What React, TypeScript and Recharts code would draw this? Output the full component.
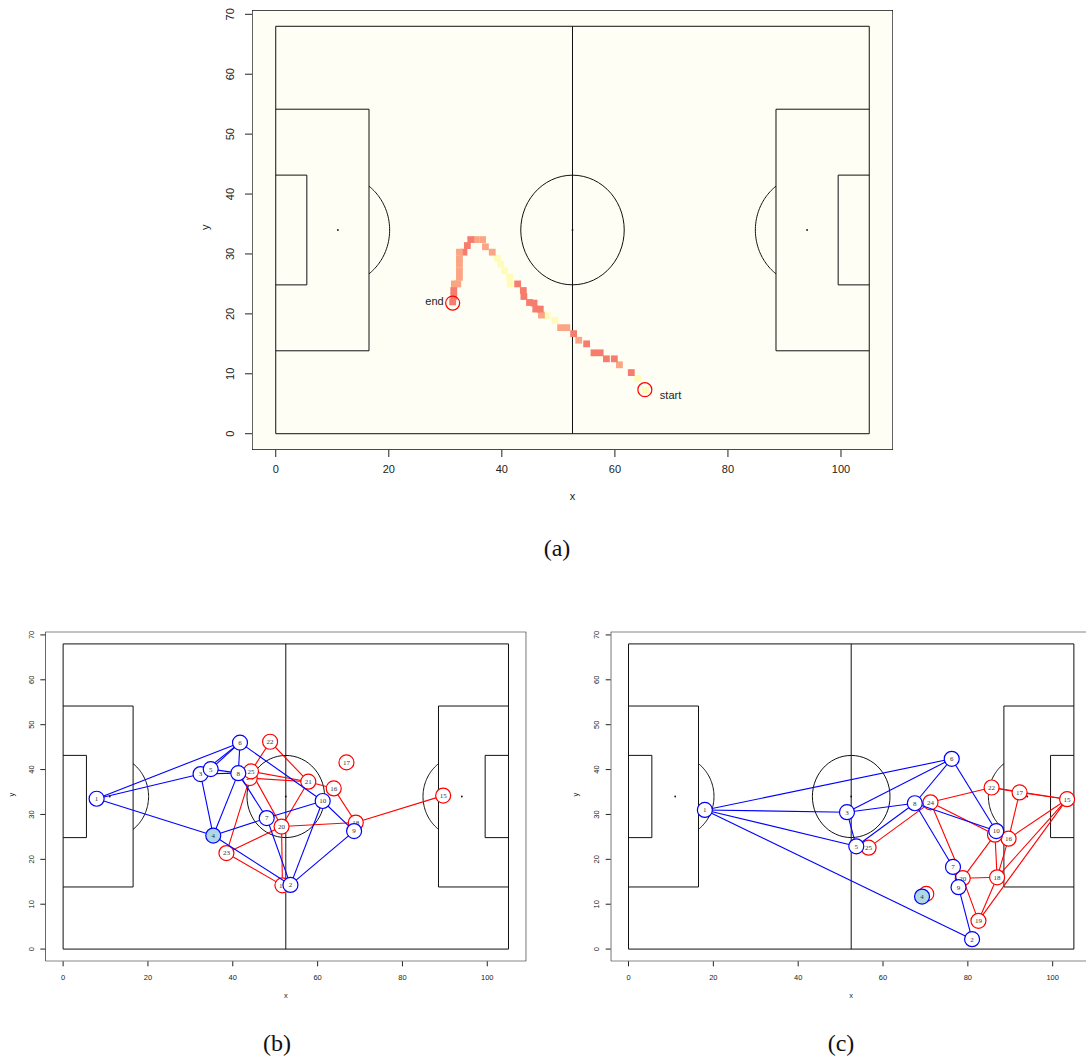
import React from "react";
import { ScatterChart, Scatter, XAxis, YAxis, CartesianGrid } from "recharts";

// axes (pitch is 105 x 68 m, R-style 4% padding)
const xTicks = [0, 20, 40, 60, 80, 100];
const yTicks = [0, 10, 20, 30, 40, 50, 60, 70];
const xDomain: [number, number] = [-4.2, 109.2];
const yDomain: [number, number] = [-2.72, 70.72];

// (a) ball trajectory, start -> end. level: 0 slow (yellow), 1 medium, 2 fast (red)
const trackX = [
  65.4, 64.0, 62.9, 60.8, 59.9, 58.5, 57.4, 56.3, 55.0, 53.6, 52.7, 51.5, 50.4, 49.4, 48.0,
  47.0, 46.8, 46.0, 45.7, 44.9, 43.9, 43.8, 42.8, 41.5, 41.4, 40.5, 39.8, 39.2, 38.3, 37.1,
  36.6, 35.4, 34.5, 33.9, 33.3, 32.5, 32.5, 32.5, 32.5, 32.5, 32.2, 31.6, 31.5, 31.5, 31.3,
];
const trackY = [
  7.3, 9.2, 10.2, 11.5, 12.5, 12.5, 13.5, 13.5, 15.0, 15.6, 16.7, 17.7, 17.7, 18.9, 19.7,
  19.8, 20.8, 20.8, 21.8, 21.9, 22.9, 23.9, 25.0, 25.0, 26.1, 27.2, 28.3, 29.3, 30.3, 31.2,
  32.4, 32.4, 32.4, 31.4, 30.3, 30.3, 29.2, 28.3, 27.2, 26.1, 25.0, 25.0, 23.9, 22.9, 22.0,
];
const trackLevel = [
  0, 0, 2, 1, 2, 2, 2, 2, 2, 1, 2, 1, 1, 0, 0,
  1, 2, 2, 2, 2, 2, 2, 2, 0, 0, 0, 0, 0, 1, 1,
  1, 1, 2, 2, 2, 1, 1, 1, 1, 1, 1, 1, 2, 2, 2,
];
const trackEndLabels = ["start", "end"];
const trackEndX = [65.3, 31.3];
const trackEndY = [7.35, 21.8];

// (b) passing networks
const bBlueIds = [1, 2, 3, 4, 5, 6, 7, 8, 9, 10];
const bBlueX = [7.9, 53.6, 32.4, 35.4, 34.8, 41.7, 48.0, 41.3, 68.6, 61.2];
const bBlueY = [33.5, 14.3, 39.0, 25.3, 40.1, 46.0, 29.2, 39.2, 26.3, 33.0];
const bRedIds = [15, 16, 17, 18, 19, 20, 21, 22, 23, 24, 25];
const bRedX = [89.6, 63.8, 66.8, 69.0, 51.7, 51.5, 57.8, 48.8, 38.5, 44.0, 44.3];
const bRedY = [34.2, 35.8, 41.6, 28.2, 14.2, 27.3, 37.3, 46.2, 21.4, 38.1, 39.6];
const bBlueEdges = [
  [1, 6], [1, 3], [1, 4], [6, 5], [6, 3], [6, 8], [6, 10], [5, 8], [3, 8], [3, 5],
  [3, 4], [8, 4], [8, 7], [4, 7], [4, 2], [7, 10], [7, 2], [10, 2], [10, 9], [9, 2],
];
const bRedEdges = [
  [22, 25], [22, 21], [25, 21], [24, 21], [25, 20], [24, 23], [21, 16], [21, 20],
  [16, 18], [20, 18], [20, 23], [23, 19], [20, 19], [18, 15],
];

// (c)
const cBlueIds = [1, 2, 3, 4, 5, 6, 7, 8, 9, 10];
const cBlueX = [18.0, 81.0, 51.5, 69.2, 53.7, 76.2, 76.5, 67.5, 77.8, 86.7];
const cBlueY = [31.0, 2.2, 30.5, 11.7, 22.9, 42.4, 18.3, 32.5, 13.8, 26.3];
const cRedIds = [15, 16, 17, 18, 19, 20, 21, 22, 23, 24, 25];
const cRedX = [103.4, 89.6, 92.2, 86.9, 82.5, 78.8, 86.4, 85.6, 70.2, 71.2, 56.6];
const cRedY = [33.4, 24.6, 34.9, 16.0, 6.3, 15.8, 25.5, 36.0, 12.3, 32.7, 22.6];
const cBlueEdges = [
  [1, 6], [1, 3], [1, 5], [1, 2], [3, 6], [3, 8], [3, 5], [5, 8], [8, 6], [6, 10],
  [8, 10], [8, 7], [7, 9], [9, 2],
];
const cRedEdges = [
  [25, 24], [24, 22], [24, 21], [24, 20], [22, 17], [22, 15], [17, 15], [17, 16],
  [15, 16], [15, 18], [15, 19], [21, 20], [21, 18], [16, 18], [20, 18], [20, 19], [18, 19],
];

const highlightedPlayer = 4;

const trackColors = ["#FFFBB8", "#FBA585", "#F67D6E"];
const BLUE = "#0000FF";
const RED = "#FF0000";
const SANS = "'Liberation Sans', Arial, sans-serif";
const SERIF = "'Liberation Serif', 'Times New Roman', serif";

type Pt = { x: number; y: number };

// pitch markings
const arc = (cx: number, cy: number, r: number, a0: number, a1: number): Pt[] => {
  const pts: Pt[] = [];
  const n = 60;
  for (let i = 0; i <= n; i++) {
    const a = ((a0 + ((a1 - a0) * i) / n) * Math.PI) / 180;
    pts.push({ x: cx + r * Math.cos(a), y: cy + r * Math.sin(a) });
  }
  return pts;
};
const P = (x: number, y: number): Pt => ({ x, y });
const pitchLines: Pt[][] = [
  [P(0, 0), P(105, 0), P(105, 68), P(0, 68), P(0, 0)],
  [P(52.5, 0), P(52.5, 68)],
  [P(0, 13.84), P(16.5, 13.84), P(16.5, 54.16), P(0, 54.16)],
  [P(0, 24.84), P(5.5, 24.84), P(5.5, 43.16), P(0, 43.16)],
  [P(105, 13.84), P(88.5, 13.84), P(88.5, 54.16), P(105, 54.16)],
  [P(105, 24.84), P(99.5, 24.84), P(99.5, 43.16), P(105, 43.16)],
  arc(52.5, 34, 9.15, 0, 360),
  arc(11, 34, 9.15, -53.1, 53.1),
  arc(94, 34, 9.15, 126.9, 233.1),
];
const pitchSpots = [P(52.5, 34), P(11, 34), P(94, 34)];
const plotBox = [
  P(xDomain[0], yDomain[0]), P(xDomain[1], yDomain[0]), P(xDomain[1], yDomain[1]),
  P(xDomain[0], yDomain[1]), P(xDomain[0], yDomain[0]),
];

const hidden = () => <g />;

const lineSeries = (key: string, pts: Pt[], stroke: string, w: number) => (
  <Scatter
    key={key}
    data={pts}
    line={{ stroke, strokeWidth: w }}
    lineType="joint"
    shape={hidden}
    fill="none"
    isAnimationActive={false}
    legendType="none"
  />
);

const pitchSeries = (prefix: string) => [
  ...pitchLines.map((pts, i) => lineSeries(`${prefix}pl${i}`, pts, "#111", 1)),
  <Scatter
    key={`${prefix}spots`}
    data={pitchSpots}
    shape={(p: any) => <circle cx={p.cx} cy={p.cy} r={0.9} fill="#111" />}
    isAnimationActive={false}
    legendType="none"
  />,
];

const nodeShape = (stroke: string) => (p: any) => {
  const { cx, cy, payload } = p;
  return (
    <g>
      <circle
        cx={cx}
        cy={cy}
        r={7.5}
        fill={payload.id === highlightedPlayer ? "#ADD8E6" : "#FFFFFF"}
        stroke={stroke}
        strokeWidth={1.2}
      />
      <text x={cx} y={cy + 2.4} textAnchor="middle" fontSize={7} fontFamily={SERIF} fill="#333">
        {payload.id}
      </text>
    </g>
  );
};

const network = (
  prefix: string,
  ids: number[],
  xs: number[],
  ys: number[],
  edges: number[][],
  color: string
) => {
  const pos: Record<number, Pt & { id: number }> = {};
  ids.forEach((id, i) => (pos[id] = { id, x: xs[i], y: ys[i] }));
  return [
    ...edges.map(([a, b], i) => lineSeries(`${prefix}e${i}`, [pos[a], pos[b]], color, 1.1)),
    <Scatter
      key={`${prefix}nodes`}
      data={ids.map((id) => pos[id])}
      shape={nodeShape(color)}
      isAnimationActive={false}
      legendType="none"
    />,
  ];
};

type PanelProps = {
  left: number;
  top: number;
  width: number;
  height: number;
  margin: { top: number; right: number; bottom: number; left: number };
  yW: number;
  xH: number;
  fs: number;
  tickSize: number;
  xTickMargin: number;
  yTickMargin: number;
  xTitleOffset: number;
  yTitleOffset: number;
  bg?: string;
  children: React.ReactNode;
};

function Panel(props: PanelProps) {
  const { fs } = props;
  const xTick = (p: any) => (
    <text x={p.x} y={p.y} dy="0.71em" textAnchor="middle" fontSize={fs} fontFamily={SANS} fill="#222">
      {p.payload.value}
    </text>
  );
  const yTick = (p: any) => (
    <text
      x={p.x}
      y={p.y}
      transform={`rotate(-90 ${p.x} ${p.y})`}
      textAnchor="middle"
      fontSize={fs}
      fontFamily={SANS}
      fill="#222"
    >
      {p.payload.value}
    </text>
  );
  return (
    <div style={{ position: "absolute", left: props.left, top: props.top }}>
      <ScatterChart width={props.width} height={props.height} margin={props.margin}>
        {props.bg && <CartesianGrid horizontal={false} vertical={false} fill={props.bg} stroke="none" />}
        <XAxis
          type="number"
          dataKey="x"
          domain={xDomain}
          allowDataOverflow
          ticks={xTicks}
          height={props.xH}
          axisLine={false}
          tickSize={props.tickSize}
          tickMargin={props.xTickMargin}
          tickLine={{ stroke: "#222" }}
          tick={xTick}
          label={{ value: "x", position: "insideBottom", offset: props.xTitleOffset, fontSize: fs, fontFamily: SANS, fill: "#222" }}
        />
        <YAxis
          type="number"
          dataKey="y"
          domain={yDomain}
          allowDataOverflow
          ticks={yTicks}
          width={props.yW}
          axisLine={false}
          tickSize={props.tickSize}
          tickMargin={props.yTickMargin}
          tickLine={{ stroke: "#222" }}
          tick={yTick}
          label={{ value: "y", angle: -90, position: "insideLeft", offset: props.yTitleOffset, fontSize: fs, fontFamily: SANS, fill: "#222" }}
        />
        {props.children}
      </ScatterChart>
    </div>
  );
}

const Caption = ({ text, x, y }: { text: string; x: number; y: number }) => (
  <div
    style={{
      position: "absolute",
      left: x - 50,
      top: y - 15,
      width: 100,
      lineHeight: "30px",
      textAlign: "center",
      fontFamily: SERIF,
      fontSize: 24,
      color: "#111",
    }}
  >
    {text}
  </div>
);

const trackData = trackX.map((x, i) => ({ x, y: trackY[i], level: trackLevel[i] }));
const trackEnds = trackEndLabels.map((label, i) => ({ x: trackEndX[i], y: trackEndY[i], label }));

const squareShape = (p: any) => (
  <rect x={p.cx - 3.4} y={p.cy - 3.4} width={6.8} height={6.8} fill={trackColors[p.payload.level]} />
);
const endShape = (p: any) => {
  const isStart = p.payload.label === "start";
  return (
    <g>
      <circle cx={p.cx} cy={p.cy} r={7} fill="none" stroke={RED} strokeWidth={1.2} />
      <text
        x={isStart ? p.cx + 15 : p.cx - 9}
        y={isStart ? p.cy + 9 : p.cy + 2}
        textAnchor={isStart ? "start" : "end"}
        fontSize={11}
        fontFamily={SANS}
        fill="#222"
      >
        {p.payload.label}
      </text>
    </g>
  );
};

export default function App() {
  return (
    <div
      style={{
        position: "absolute",
        left: 0,
        top: 0,
        width: 1086,
        height: 1059,
        overflow: "hidden",
        background: "#fff",
      }}
    >
      <Panel
        left={200}
        top={0}
        width={700}
        height={510}
        margin={{ top: 10, right: 7, bottom: 0, left: 0 }}
        yW={52}
        xH={60}
        fs={11}
        tickSize={7}
        xTickMargin={8}
        yTickMargin={11}
        xTitleOffset={10}
        yTitleOffset={5}
        bg="#FEFEF4"
      >
        {lineSeries("a-box", plotBox, "#111", 1.3)}
        {pitchSeries("a")}
        <Scatter data={trackData} shape={squareShape} isAnimationActive={false} legendType="none" />
        <Scatter data={trackEnds} shape={endShape} isAnimationActive={false} legendType="none" />
      </Panel>

      <Panel
        left={0}
        top={620}
        width={530}
        height={400}
        margin={{ top: 11.7, right: 3.7, bottom: 0, left: 0 }}
        yW={45.3}
        xH={58.7}
        fs={7.5}
        tickSize={5}
        xTickMargin={8}
        yTickMargin={6}
        xTitleOffset={22}
        yTitleOffset={11.7}
      >
        {lineSeries("b-box", plotBox, "#111", 1.2)}
        {pitchSeries("b")}
        {network("br", bRedIds, bRedX, bRedY, bRedEdges, RED)}
        {network("bb", bBlueIds, bBlueX, bBlueY, bBlueEdges, BLUE)}
      </Panel>

      <Panel
        left={565}
        top={620}
        width={530}
        height={400}
        margin={{ top: 11.7, right: 3.3, bottom: 0, left: 0 }}
        yW={45.7}
        xH={58.7}
        fs={7.5}
        tickSize={5}
        xTickMargin={8}
        yTickMargin={7}
        xTitleOffset={22}
        yTitleOffset={10}
      >
        {lineSeries("c-box", plotBox, "#111", 1.2)}
        {pitchSeries("c")}
        {network("cr", cRedIds, cRedX, cRedY, cRedEdges, RED)}
        {network("cb", cBlueIds, cBlueX, cBlueY, cBlueEdges, BLUE)}
      </Panel>

      <Caption text="(a)" x={557} y={548} />
      <Caption text="(b)" x={277} y={1043} />
      <Caption text="(c)" x={841} y={1043} />
    </div>
  );
}
